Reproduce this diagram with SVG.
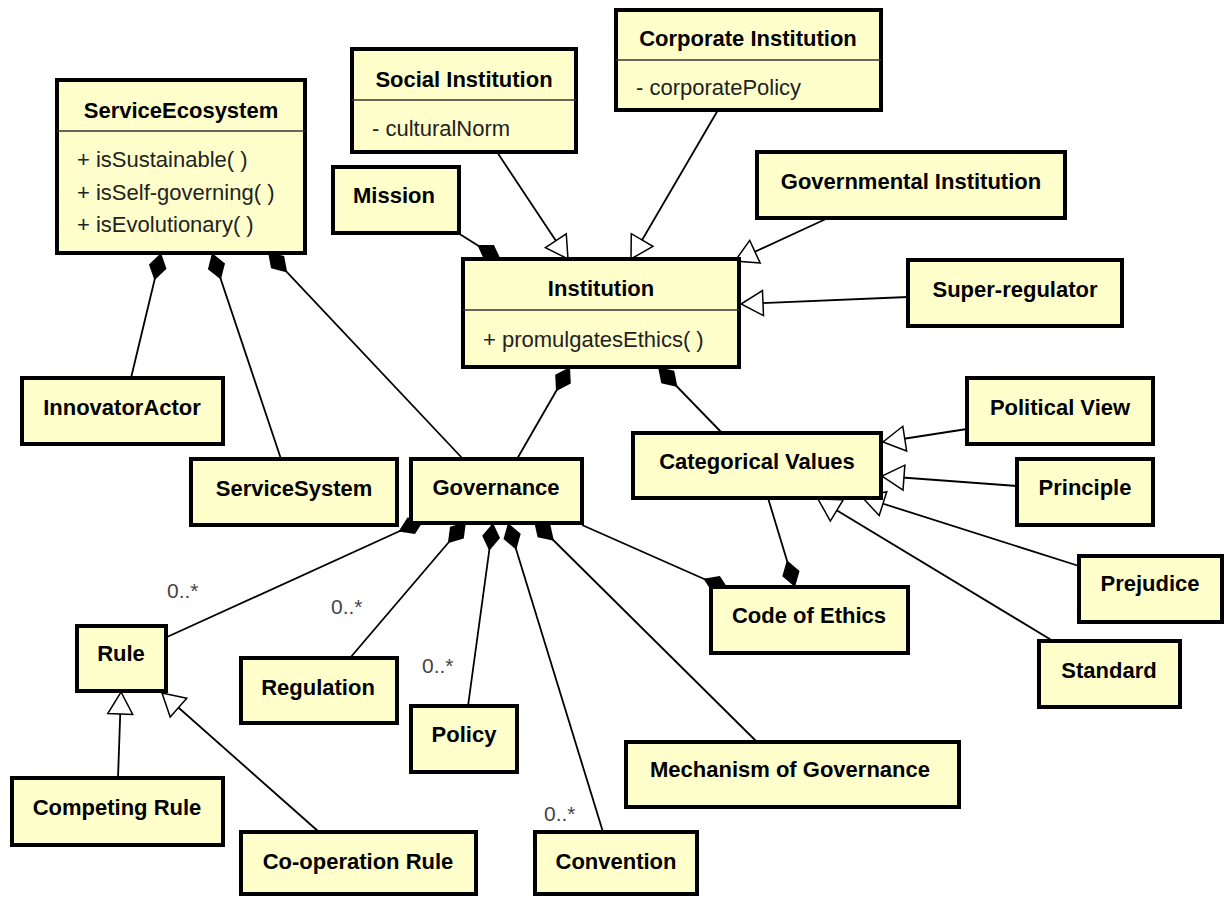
<svg xmlns="http://www.w3.org/2000/svg" width="1224" height="897" viewBox="0 0 1224 897">
<style>
.box{fill:#ffffcc;stroke:#000;stroke-width:4}
.sep{stroke:#333;stroke-width:1.5}
.t{font-family:"Liberation Sans",Arial,sans-serif;font-size:22px;font-weight:bold;fill:#000;text-anchor:middle}
.a{font-family:"Liberation Sans",Arial,sans-serif;font-size:22px;fill:#222}
.m{font-family:"Liberation Sans",Arial,sans-serif;font-size:21px;fill:#444}
.c{stroke:#000;stroke-width:1.8;fill:none}
.comp{marker-start:url(#dia)}
.gen{marker-end:url(#tri)}
</style>
<defs>
<marker id="dia" markerUnits="userSpaceOnUse" markerWidth="30" markerHeight="20" refX="0" refY="0" viewBox="-1 -10 30 20" orient="auto" overflow="visible">
<path d="M0,0 L14,-9 L28,0 L14,9 Z" fill="#000"/>
</marker>
<marker id="tri" markerUnits="userSpaceOnUse" markerWidth="24" markerHeight="28" refX="22" refY="0" viewBox="-1 -14 24 28" orient="auto" overflow="visible">
<path d="M0,-12.5 L22,0 L0,12.5 Z" fill="#fff" stroke="#000" stroke-width="1.5"/>
</marker>
</defs>
<rect width="1224" height="897" fill="#fff"/>
<g id="connectors">
<line class="c comp" x1="161" y1="253" x2="131" y2="378"/>
<line class="c comp" x1="212" y1="253" x2="281" y2="459"/>
<line class="c comp" x1="268" y1="252" x2="463" y2="459"/>
<line class="c comp" x1="501" y1="260" x2="458" y2="233"/>
<line class="c comp" x1="570" y1="367" x2="517" y2="459"/>
<line class="c comp" x1="658" y1="367" x2="722" y2="433"/>
<line class="c comp" x1="795" y1="587" x2="768" y2="498"/>
<line class="c comp" x1="729" y1="590" x2="582" y2="525"/>
<line class="c comp" x1="424" y1="520" x2="167" y2="637"/>
<line class="c comp" x1="466" y1="522" x2="350" y2="658"/>
<line class="c comp" x1="493" y1="523" x2="468" y2="706"/>
<line class="c comp" x1="508" y1="523" x2="603" y2="832"/>
<line class="c comp" x1="534" y1="521" x2="757" y2="742"/>
<line class="c gen" x1="497" y1="152" x2="568" y2="259"/>
<line class="c gen" x1="718" y1="110" x2="631" y2="259"/>
<line class="c gen" x1="828" y1="218" x2="735" y2="261"/>
<line class="c gen" x1="908" y1="297" x2="741" y2="304"/>
<line class="c gen" x1="967" y1="429" x2="883" y2="442"/>
<line class="c gen" x1="1017" y1="486" x2="882" y2="476"/>
<line class="c gen" x1="1079" y1="566" x2="862" y2="497"/>
<line class="c gen" x1="1053" y1="641" x2="818" y2="499"/>
<line class="c gen" x1="118" y1="778" x2="121" y2="692"/>
<line class="c gen" x1="319" y1="832" x2="162" y2="693"/>
<text class="m" x="167" y="598">0..*</text>
<text class="m" x="331" y="614">0..*</text>
<text class="m" x="422" y="673">0..*</text>
<text class="m" x="544" y="821">0..*</text>
</g>
<g id="ServiceEcosystem">
<rect class="box" x="57" y="80" width="248" height="173"/>
<line class="sep" x1="57" y1="131" x2="305" y2="131"/>
<text class="t" x="181" y="118">ServiceEcosystem</text>
<text class="a" x="77" y="167">+ isSustainable( )</text>
<text class="a" x="77" y="200">+ isSelf-governing( )</text>
<text class="a" x="77" y="232">+ isEvolutionary( )</text>
</g>
<g id="SocialInstitution">
<rect class="box" x="352" y="49" width="224" height="103"/>
<line class="sep" x1="352" y1="100" x2="576" y2="100"/>
<text class="t" x="464" y="87">Social Institution</text>
<text class="a" x="372" y="136">- culturalNorm</text>
</g>
<g id="CorporateInstitution">
<rect class="box" x="616" y="10" width="265" height="100"/>
<line class="sep" x1="616" y1="60" x2="881" y2="60"/>
<text class="t" x="748" y="46">Corporate Institution</text>
<text class="a" x="636" y="95">- corporatePolicy</text>
</g>
<g id="Mission">
<rect class="box" x="333" y="167" width="126" height="66"/>
<text class="t" x="394" y="203">Mission</text>
</g>
<g id="GovernmentalInstitution">
<rect class="box" x="757" y="152" width="308" height="66"/>
<text class="t" x="911" y="189">Governmental Institution</text>
</g>
<g id="SuperRegulator">
<rect class="box" x="908" y="260" width="214" height="66"/>
<text class="t" x="1015" y="297">Super-regulator</text>
</g>
<g id="Institution">
<rect class="box" x="463" y="259" width="276" height="108"/>
<line class="sep" x1="463" y1="310" x2="739" y2="310"/>
<text class="t" x="601" y="296">Institution</text>
<text class="a" x="483" y="347">+ promulgatesEthics( )</text>
</g>
<g id="InnovatorActor">
<rect class="box" x="22" y="378" width="201" height="66"/>
<text class="t" x="122" y="415">InnovatorActor</text>
</g>
<g id="ServiceSystem">
<rect class="box" x="191" y="459" width="206" height="66"/>
<text class="t" x="294" y="496">ServiceSystem</text>
</g>
<g id="Governance">
<rect class="box" x="411" y="459" width="171" height="64"/>
<text class="t" x="496" y="495">Governance</text>
</g>
<g id="CategoricalValues">
<rect class="box" x="633" y="433" width="248" height="65"/>
<text class="t" x="757" y="469">Categorical Values</text>
</g>
<g id="PoliticalView">
<rect class="box" x="967" y="378" width="186" height="66"/>
<text class="t" x="1060" y="415">Political View</text>
</g>
<g id="Principle">
<rect class="box" x="1017" y="459" width="136" height="66"/>
<text class="t" x="1085" y="495">Principle</text>
</g>
<g id="Prejudice">
<rect class="box" x="1079" y="556" width="143" height="66"/>
<text class="t" x="1150" y="591">Prejudice</text>
</g>
<g id="Standard">
<rect class="box" x="1039" y="641" width="141" height="66"/>
<text class="t" x="1109" y="678">Standard</text>
</g>
<g id="CodeOfEthics">
<rect class="box" x="711" y="587" width="197" height="66"/>
<text class="t" x="809" y="623">Code of Ethics</text>
</g>
<g id="MechanismOfGovernance">
<rect class="box" x="626" y="742" width="333" height="65"/>
<text class="t" x="790" y="777">Mechanism of Governance</text>
</g>
<g id="Rule">
<rect class="box" x="77" y="626" width="89" height="65"/>
<text class="t" x="121" y="661">Rule</text>
</g>
<g id="Regulation">
<rect class="box" x="241" y="658" width="156" height="65"/>
<text class="t" x="318" y="695">Regulation</text>
</g>
<g id="Policy">
<rect class="box" x="411" y="706" width="106" height="66"/>
<text class="t" x="464" y="742">Policy</text>
</g>
<g id="CompetingRule">
<rect class="box" x="12" y="778" width="211" height="67"/>
<text class="t" x="117" y="815">Competing Rule</text>
</g>
<g id="CooperationRule">
<rect class="box" x="241" y="832" width="235" height="62"/>
<text class="t" x="358" y="869">Co-operation Rule</text>
</g>
<g id="Convention">
<rect class="box" x="535" y="832" width="162" height="62"/>
<text class="t" x="616" y="869">Convention</text>
</g>
</svg>
